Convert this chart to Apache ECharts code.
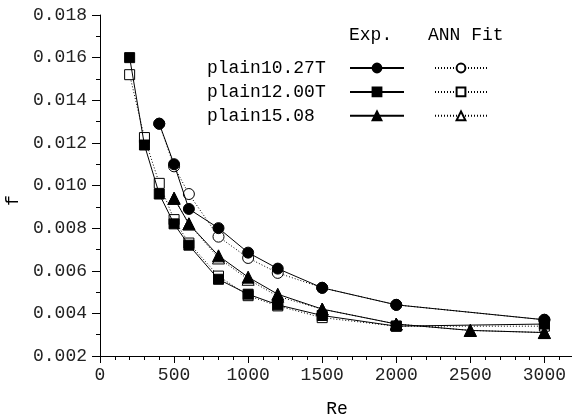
<!DOCTYPE html>
<html>
<head>
<meta charset="utf-8">
<script src="https://cdn.jsdelivr.net/npm/echarts@6/dist/echarts.min.js"></script>
<style>html,body{margin:0;padding:0;background:#fff}#c{width:572px;height:419px}</style>
</head>
<body>
<div id="c"></div>
<script>
// ---- data ----
const seriesNames = ['plain10.27T', 'plain12.00T', 'plain15.08'];
const fitNames = ['plain10.27T ANN Fit', 'plain12.00T ANN Fit', 'plain15.08 ANN Fit'];
const symbols = ['circle', 'rect', 'triangle'];

const re10 = [400, 500, 600, 800, 1000, 1200, 1500, 2000, 3000];
const exp10 = [0.0129, 0.0110, 0.0089, 0.0080, 0.00685, 0.0061, 0.0052, 0.0044, 0.0037];
const fit10 = [0.0129, 0.0109, 0.0096, 0.0076, 0.0066, 0.0059, 0.0052, 0.0044, 0.0037];

const re12 = [200, 300, 400, 500, 600, 800, 1000, 1200, 1500, 2000, 3000];
const exp12 = [0.0160, 0.0119, 0.0096, 0.0082, 0.0072, 0.0056, 0.0049, 0.0044, 0.0039, 0.0034, 0.0035];
const fit12 = [0.0152, 0.01225, 0.0101, 0.0084, 0.0073, 0.00575, 0.00483, 0.00435, 0.0038, 0.0034, 0.0034];

const re15 = [500, 600, 800, 1000, 1200, 1500, 2000, 2500, 3000];
const exp15 = [0.0094, 0.0082, 0.0067, 0.0057, 0.0049, 0.0042, 0.0035, 0.0032, 0.0031];
const fit15 = [0.0094, 0.0082, 0.0066, 0.0056, 0.0048, 0.0042, 0.0035, 0.0032, 0.0031];

const yMin = 0.002, yMax = 0.018, yStep = 0.002;
const xMin = 0, xMax = 3200, xStep = 500, xMinorStep = 100;

// ---- build ----
const xs = [re10, re12, re15];
const exps = [exp10, exp12, exp15];
const fits = [fit10, fit12, fit15];
const symSize = [11, 10, 12];
const pair = (x, y) => x.map((v, i) => [v, y[i]]);

const FF = '"Liberation Mono", monospace';
const tickFont = {fontFamily: FF, fontSize: 18, color: '#222'};
const monoFont = {fontFamily: FF, fontSize: 18, color: '#000'};

const series = [];
for (let i = 0; i < 3; i++) {
  series.push({
    name: fitNames[i], type: 'line', data: pair(xs[i], fits[i]),
    symbol: symbols[i], symbolSize: symSize[i], showSymbol: true,
    lineStyle: {color: '#000', width: 1, type: [1, 2]},
    itemStyle: {color: '#fff', borderColor: '#000', borderWidth: 1},
    z: 2, animation: false
  });
}
for (let i = 0; i < 3; i++) {
  series.push({
    name: seriesNames[i], type: 'line', data: pair(xs[i], exps[i]),
    symbol: symbols[i], symbolSize: symSize[i], showSymbol: true,
    lineStyle: {color: '#000', width: 1},
    itemStyle: {color: '#000', borderColor: '#000', borderWidth: 1},
    z: 3, animation: false
  });
}

const legendTop = 54;
const chart = echarts.init(document.getElementById('c'), null, {renderer: 'canvas'});
chart.setOption({
  backgroundColor: '#fff',
  animation: false,
  grid: {left: 100, top: 15, width: 474, height: 341, containLabel: false, outerBoundsMode: 'none'},
  xAxis: [{
    type: 'value', min: xMin, max: xMax, interval: xStep,
    axisLine: {show: true, onZero: false, lineStyle: {color: '#000', width: 1}},
    axisTick: {show: true, inside: false, length: 7, lineStyle: {color: '#000'}},
    axisLabel: {show: true, margin: 10, showMaxLabel: false, formatter: v => String(v), ...tickFont},
    splitLine: {show: false},
    name: 'Re', nameLocation: 'middle', nameGap: 44,
    nameTextStyle: {...monoFont}
  }, {
    type: 'value', min: xMin, max: xMax, interval: xMinorStep, position: 'bottom',
    axisLine: {show: false, onZero: false},
    axisTick: {show: true, inside: false, length: 4, lineStyle: {color: '#000'}},
    axisLabel: {show: false}, splitLine: {show: false}
  }],
  yAxis: {
    type: 'value', min: yMin, max: yMax, interval: yStep,
    axisLine: {show: true, onZero: false, lineStyle: {color: '#000', width: 1}},
    axisTick: {show: true, inside: false, length: 8, lineStyle: {color: '#000'}},
    minorTick: {show: true, splitNumber: 2, length: 4, lineStyle: {color: '#000'}},
    axisLabel: {margin: 13, formatter: v => v.toFixed(3), ...tickFont},
    splitLine: {show: false},
    name: 'f', nameLocation: 'middle', nameGap: 78, nameRotate: 90,
    nameTextStyle: {...monoFont, padding: [0, 30, 0, 0]}
  },
  legend: [{
    // row labels
    data: seriesNames, orient: 'vertical', left: 191, top: legendTop,
    itemWidth: 1, itemHeight: 11, itemGap: 6,
    itemStyle: {opacity: 0}, lineStyle: {opacity: 0},
    textStyle: {...monoFont}, selectedMode: false
  }, {
    // experimental symbols
    data: seriesNames, orient: 'vertical', left: 344, top: legendTop + 3.5,
    itemWidth: 54, itemHeight: 11, itemGap: 13,
    formatter: () => '', textStyle: {...monoFont}, selectedMode: false
  }, {
    // ANN fit symbols
    data: fitNames, orient: 'vertical', left: 429, top: legendTop + 3.5,
    itemWidth: 52, itemHeight: 11, itemGap: 13,
    formatter: () => '', textStyle: {...monoFont}, selectedMode: false
  }],
  graphic: [
    {type: 'text', left: 349, top: 26, style: {text: 'Exp.', font: '18px "Liberation Mono"', fill: '#000'}},
    {type: 'text', left: 428, top: 26, style: {text: 'ANN Fit', font: '18px "Liberation Mono"', fill: '#000'}}
  ],
  series: series
});
</script>
</body>
</html>
